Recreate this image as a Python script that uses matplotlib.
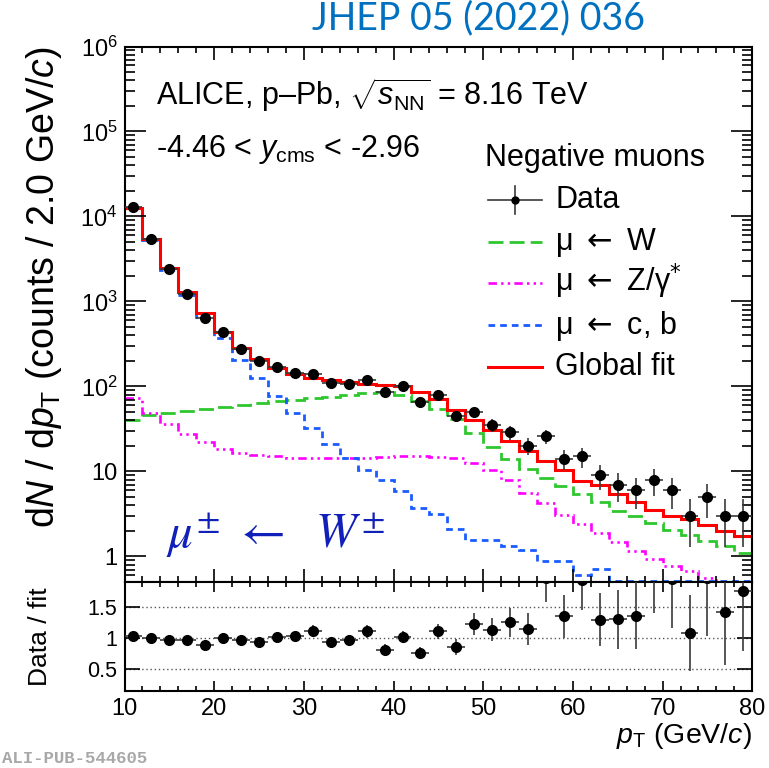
import numpy as np
import matplotlib
matplotlib.use('Agg')
import matplotlib.pyplot as plt
from matplotlib.lines import Line2D
from matplotlib.ticker import FixedLocator, FuncFormatter, MultipleLocator, LogLocator, NullFormatter

plt.rcParams['font.family'] = ['Liberation Sans', 'DejaVu Sans']
plt.rcParams['mathtext.fontset'] = 'custom'
plt.rcParams['mathtext.rm'] = 'Liberation Sans'
plt.rcParams['mathtext.it'] = 'Liberation Sans:italic'
plt.rcParams['mathtext.bf'] = 'Liberation Sans:bold'

# ---------------- data ----------------
bin_edges = np.arange(10, 82, 2)          # pT bins, 2 GeV/c wide
bin_centers = [11, 13, 15, 17, 19, 21, 23, 25, 27, 29, 31, 33, 35, 37, 39, 41, 43, 45,
               47, 49, 51, 53, 55, 57, 59, 61, 63, 65, 67, 69, 71, 73, 75, 77, 79]
bin_halfwidth = 1.0

data_counts = [13000, 5380, 2390, 1228, 637, 436, 275, 197, 168, 144, 140, 110, 108, 120,
               86, 102, 65, 79, 45, 50, 35, 29, 20, 26, 14, 15, 9, 7, 6, 8, 6, 3, 5, 3, 3]
data_err = [114, 73, 49, 35, 25, 21, 17, 14, 13, 12, 12, 10.5, 10.4, 11, 9.3, 10, 8, 8.9,
            6.7, 7.1, 5.9, 5.4, 4.5, 5.1, 3.7, 3.9, 3.0, 2.6, 2.4, 2.8, 2.4, 1.7, 2.2, 1.7, 1.7]

global_fit = [12700, 5380, 2450, 1275, 725, 440, 284, 210, 165, 140, 126, 118, 112, 108,
              105, 100, 86, 71, 53, 40.5, 31, 23, 17.3, 13.2, 10.5, 7.7, 7.0, 5.4, 4.4,
              3.5, 3.0, 2.75, 2.35, 2.0, 1.75]
mu_from_W = [40, 46, 49, 52, 55, 58, 61, 64, 67, 70, 73, 76, 79, 83, 86, 80, 67, 54, 41,
             28, 19.5, 14, 10.7, 8.4, 6.7, 5.4, 4.4, 3.4, 3.0, 2.5, 2.05, 1.77, 1.52, 1.31, 1.11]
mu_from_Z = [73, 49, 35.7, 27.9, 22, 18.6, 16.6, 15.8, 15.1, 14.5, 14.2, 14.2, 14.3, 14.5,
             14.8, 15.0, 15.0, 14.8, 14.5, 12.6, 10.5, 7.9, 5.6, 4.2, 3.1, 2.39, 1.9, 1.46,
             1.16, 0.93, 0.77, 0.68, 0.56, 0.5, 0.45]
mu_from_cb = [12580, 5290, 2365, 1195, 650, 371, 207, 126, 76.5, 49, 32.6, 21.3, 14.5, 10.5,
              7.9, 5.9, 3.75, 3.13, 2.09, 1.56, 1.55, 1.33, 1.19, 0.89, 0.88, 0.6, 0.72,
              0.51, 0.51, 0.51, 0.51, 0.51, 0.51, 0.51, 0.51]

ratio = [1.026, 1.0, 0.962, 0.962, 0.886, 1.0, 0.962, 0.935, 1.016, 1.026, 1.118, 0.935,
         0.962, 1.107, 0.81, 1.016, 0.757, 1.107, 0.854, 1.227, 1.135, 1.26, 1.15, 1.97,
         1.35, 1.95, 1.297, 1.308, 1.366, 2.2, 1.96, 1.081, 1.98, 1.42, 1.767]
ratio_err = [0.009, 0.014, 0.02, 0.027, 0.035, 0.048, 0.06, 0.067, 0.079, 0.086, 0.095,
             0.089, 0.093, 0.10, 0.089, 0.10, 0.093, 0.125, 0.126, 0.175, 0.19, 0.235,
             0.26, 0.39, 0.35, 0.50, 0.43, 0.48, 0.55, 0.80, 0.80, 0.62, 0.94, 0.85, 0.97]

x_ticks = [10, 20, 30, 40, 50, 60, 70, 80]
ratio_ticks = [0.5, 1.0, 1.5]
ratio_tick_labels = ['0.5', '1', '1.5']

legend_labels = ['Data', r'μ $\leftarrow$ W', r'μ $\leftarrow$ Z/γ$^{*}$',
                 r'μ $\leftarrow$ c, b', 'Global fit']

# ---------------- styles ----------------
c_W = '#2ec82e'
c_Z = '#ff00ff'
c_cb = '#1a5cff'
c_fit = '#ff0000'
ls_W = (0, (5.4, 2.2))
ls_Z = (0, (3.2, 1.6, 0.9, 1.6, 0.9, 1.6))
ls_cb = (0, (2.4, 1.8))

W_PX, H_PX = 769, 768
def fx(px):
    return px / W_PX
def fy(py):
    return 1 - py / H_PX

fig = plt.figure(figsize=(7.69, 7.68), dpi=100)
x0, x1 = 124.5, 752.3
ym_top, ym_bot, yr_bot = 46.5, 582.0, 691.0
ax = fig.add_axes([fx(x0), fy(ym_bot), (x1 - x0) / W_PX, (ym_bot - ym_top) / H_PX])
axr = fig.add_axes([fx(x0), fy(yr_bot), (x1 - x0) / W_PX, (yr_bot - ym_bot) / H_PX], sharex=ax)

# ---------------- main panel ----------------
ax.stairs(mu_from_W, bin_edges, color=c_W, lw=2.0, linestyle=ls_W, baseline=None)
ax.stairs(mu_from_Z, bin_edges, color=c_Z, lw=1.9, linestyle=ls_Z, baseline=None)
ax.stairs(mu_from_cb, bin_edges, color=c_cb, lw=2.0, linestyle=ls_cb, baseline=None)
ax.stairs(global_fit, bin_edges, color=c_fit, lw=2.2, baseline=None)
ax.errorbar(bin_centers, data_counts, yerr=data_err, xerr=bin_halfwidth, fmt='o',
            color='black', ms=7, ecolor='#3a3a3a', elinewidth=1.2, capsize=0, zorder=5)

ax.set_yscale('log')
ax.set_xlim(10, 80)
ax.set_ylim(0.5, 1e6)

def ylab(v, pos):
    if abs(v - 1) < 1e-9:
        return '1'
    if abs(v - 10) < 1e-9:
        return '10'
    return r'$10^{%d}$' % int(round(np.log10(v)))

ax.yaxis.set_major_locator(LogLocator(base=10, numticks=20))
ax.yaxis.set_minor_locator(LogLocator(base=10, subs=np.arange(2, 10), numticks=20))
ax.yaxis.set_major_formatter(FuncFormatter(ylab))
ax.yaxis.set_minor_formatter(NullFormatter())
ax.xaxis.set_major_locator(FixedLocator(x_ticks))
ax.xaxis.set_minor_locator(MultipleLocator(2))

for a in (ax, axr):
    a.tick_params(which='both', direction='in', top=True, right=True, width=1.2,
                  labelsize=17, colors='black')
    for sp in a.spines.values():
        sp.set_linewidth(1.5)
ax.tick_params(axis='y', which='major', length=15, pad=5)
ax.tick_params(axis='y', which='minor', length=7.5)
ax.tick_params(axis='x', which='major', length=9.5)
ax.tick_params(axis='x', which='minor', length=4.5)
ax.tick_params(axis='x', labelbottom=False)

# ---------------- ratio panel ----------------
for r in ratio_ticks:
    axr.axhline(r, color='#555555', lw=1.0, ls=(0, (1, 2)), zorder=1)
axr.errorbar(bin_centers, ratio, yerr=ratio_err, xerr=bin_halfwidth, fmt='o',
             color='black', ms=7, ecolor='#3a3a3a', elinewidth=1.2, capsize=0, zorder=5)
axr.set_ylim(0.14, 1.91)
axr.set_xlim(10, 80)
axr.yaxis.set_major_locator(FixedLocator(ratio_ticks))
axr.yaxis.set_major_formatter(FuncFormatter(lambda v, p: ratio_tick_labels[ratio_ticks.index(v)]
                                            if v in ratio_ticks else ''))
axr.yaxis.set_minor_locator(FixedLocator([]))
axr.xaxis.set_major_locator(FixedLocator(x_ticks))
axr.xaxis.set_minor_locator(MultipleLocator(2))
axr.tick_params(axis='y', which='major', length=11, pad=5, labelsize=15.5)
axr.tick_params(axis='x', which='major', length=7.5, pad=5)
axr.tick_params(axis='x', which='minor', length=3.8)

# ---------------- texts ----------------
fig.text(fx(44), fy(46), r'd$N$ / d$p_{\rm T}$ (counts / 2.0 GeV/$c$)', rotation=90,
         ha='center', va='top', fontsize=27)
fig.text(fx(40), fy(637), 'Data / fit', rotation=90, ha='center', va='center', fontsize=19)
fig.text(fx(752), fy(743), r'$p_{\rm T}$ (GeV/$c$)', ha='right', va='baseline', fontsize=20.5)

fig.text(fx(156), fy(105), r'ALICE, p–Pb, $\sqrt{s_{\rm NN}}$ = 8.16 TeV', ha='left',
         va='baseline', fontsize=22)
fig.text(fx(156), fy(157), r'-4.46 < $y_{\rm cms}$ < -2.96', ha='left', va='baseline',
         fontsize=22)

fig.text(fx(479), fy(18), 'JHEP 05 (2022) 036', ha='center', va='center', fontsize=27,
         color='#0070c0', family=['Lato', 'DejaVu Sans'])
fig.text(fx(166), fy(548), r'$\mu^{\pm}\ \leftarrow\ \ W^{\pm}$', ha='left', va='baseline',
         fontsize=35, color='#1020b8', math_fontfamily='stix')
fig.text(fx(2), fy(763), 'ALI-PUB-544605', ha='left', va='baseline', fontsize=12.5,
         family=['Liberation Mono', 'DejaVu Sans Mono'], weight='bold', color='#a8a8a8')

# ---------------- legend (drawn by hand, ROOT-like) ----------------
fig.text(fx(485), fy(166), 'Negative muons', ha='left', va='baseline', fontsize=22)
row_y = [200, 241.7, 283.3, 325, 366.7]
styles = [None, (c_W, ls_W, 2.0), (c_Z, ls_Z, 1.9), (c_cb, ls_cb, 2.0), (c_fit, '-', 2.2)]
for lab, yy, st in zip(legend_labels, row_y, styles):
    if st is None:
        fig.add_artist(Line2D([fx(488), fx(542)], [fy(yy), fy(yy)], color='#3a3a3a', lw=1.2))
        fig.add_artist(Line2D([fx(515), fx(515)], [fy(yy - 14), fy(yy + 14)], color='#3a3a3a', lw=1.2))
        fig.add_artist(Line2D([fx(515)], [fy(yy)], marker='o', ms=5, color='black', lw=0))
    else:
        col, ls, lw = st
        fig.add_artist(Line2D([fx(488), fx(542)], [fy(yy), fy(yy)], color=col, ls=ls, lw=lw))
    fig.text(fx(555), fy(yy + 8.5), lab, ha='left', va='baseline', fontsize=22,
             math_fontfamily='dejavusans')

fig.savefig('out.png', dpi=100)
